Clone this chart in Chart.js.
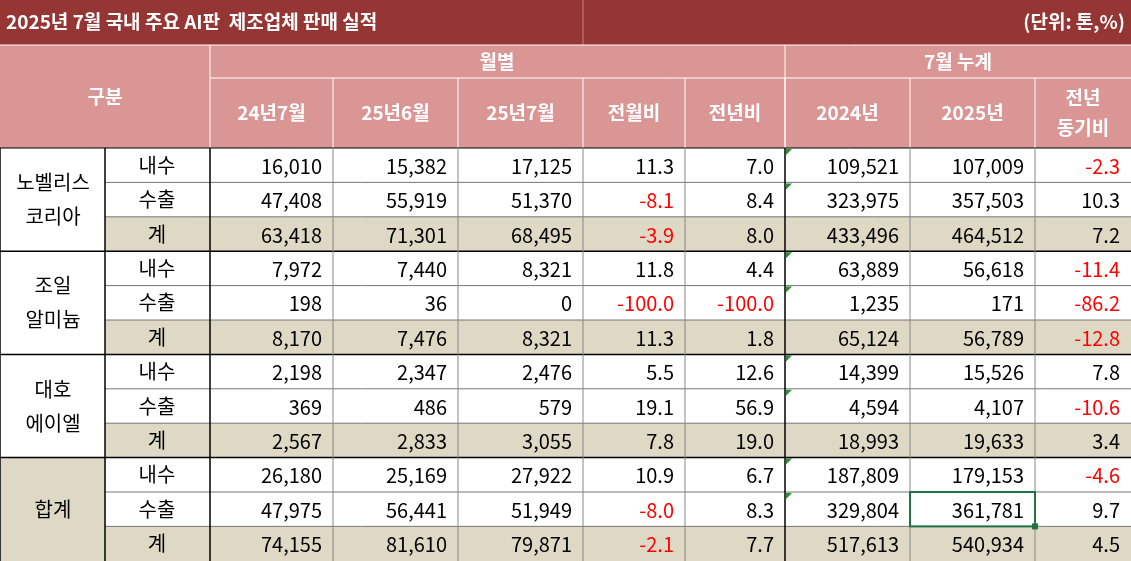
<!DOCTYPE html>
<html><head><meta charset="utf-8">
<script src="https://cdn.jsdelivr.net/npm/chart.js@4"></script>
<style>html,body{margin:0;padding:0;background:#fff;overflow:hidden}</style>
</head><body>
<canvas id="c" width="1131" height="561"></canvas>
<script>
const title = "2025년 7월 국내 주요 AI판  제조업체 판매 실적";
const unitLabel = "(단위: 톤,%)";
const groupHeaders = ["월별", "7월 누계"];
const columnHeaders = ["24년7월", "25년6월", "25년7월", "전월비", "전년비", "2024년", "2025년", "전년\n동기비"];
const companies = ["노벨리스\n코리아", "조일\n알미늄", "대호\n에이엘", "합계"];
const subRows = ["내수", "수출", "계"];
const novelis = [[16010,15382,17125,11.3,7.0,109521,107009,-2.3],[47408,55919,51370,-8.1,8.4,323975,357503,10.3],[63418,71301,68495,-3.9,8.0,433496,464512,7.2]];
const joil = [[7972,7440,8321,11.8,4.4,63889,56618,-11.4],[198,36,0,-100.0,-100.0,1235,171,-86.2],[8170,7476,8321,11.3,1.8,65124,56789,-12.8]];
const daeho = [[2198,2347,2476,5.5,12.6,14399,15526,7.8],[369,486,579,19.1,56.9,4594,4107,-10.6],[2567,2833,3055,7.8,19.0,18993,19633,3.4]];
const total = [[26180,25169,27922,10.9,6.7,187809,179153,-4.6],[47975,56441,51949,-8.0,8.3,329804,361781,9.7],[74155,81610,79871,-2.1,7.7,517613,540934,4.5]];
const companyValues = [novelis, joil, daeho, total];
const ratioCols = [3,4,7];

const colEdges = [0,105,210,333,458,583,685,785,910,1035,1131];
const rowTop = [148,182.4,216.8,251.2,285.6,320,354.4,388.8,423.2,457.6,492,526.4,561];
const FONT = '"Noto Sans CJK KR","Noto Sans",sans-serif';

const tablePlugin = {
  id: 'table',
  afterDraw(chart) {
    const ctx = chart.ctx, xs = chart.scales.x, ys = chart.scales.y;
    const X = v => xs.getPixelForValue(v), Y = v => ys.getPixelForValue(v);
    const rect = (x0,y0,x1,y1,fill) => { ctx.fillStyle = fill; ctx.fillRect(X(x0),Y(y0),X(x1)-X(x0),Y(y1)-Y(y0)); };
    const line = (x0,y0,x1,y1,col,w) => { ctx.strokeStyle=col; ctx.lineWidth=w; ctx.beginPath(); ctx.moveTo(X(x0),Y(y0)); ctx.lineTo(X(x1),Y(y1)); ctx.stroke(); };
    const text = (s,x,y,align,col,font) => { ctx.fillStyle=col; ctx.font=font; ctx.textAlign=align; ctx.textBaseline='middle'; ctx.fillText(s,X(x),Y(y)); };
    ctx.save();
    // title
    rect(0,0,1131,45,'#963634');
    line(583,0,583,45,'#c08080',1);
    text(title,6,22,'left','#fff','bold 19px '+FONT);
    text(unitLabel,1125,22,'right','#fff','bold 19px '+FONT);
    // headers
    rect(0,45,1131,148,'#DA9694');
    ctx.strokeStyle='#fff';
    line(210,45,210,148,'#fff',1); line(785,45,785,148,'#fff',1);
    line(210,78,1131,78,'#fff',1);
    for (let i=3;i<colEdges.length-1;i++) line(colEdges[i],78,colEdges[i],148,'#fff',1);
    line(0,45,1131,45,'#fff',1);
    text("구분",105,97,'center','#fff','bold 19px '+FONT);
    text(groupHeaders[0],497,62,'center','#fff','bold 19px '+FONT);
    text(groupHeaders[1],958,62,'center','#fff','bold 19px '+FONT);
    columnHeaders.forEach((h,i)=>{
      const cx=(colEdges[i+2]+colEdges[i+3])/2, parts=h.split('\n');
      parts.forEach((p,k)=>text(p,cx,113+(k-(parts.length-1)/2)*30,'center','#fff','bold 19px '+FONT));
    });
    // body
    companyValues.forEach((vals,g)=>{
      const r0=g*3;
      if (g===3) rect(0,rowTop[r0],105,rowTop[r0+3],'#DDD9C4');
      rect(105,rowTop[r0+2],1131,rowTop[r0+3],'#DDD9C4');
      const parts=companies[g].split('\n'), cy=(rowTop[r0]+rowTop[r0+3])/2;
      parts.forEach((p,k)=>text(p,53,cy+(k-(parts.length-1)/2)*34,'center','#000','20px '+FONT));
      vals.forEach((row,r)=>{
        const ty=(rowTop[r0+r]+rowTop[r0+r+1])/2;
        text(subRows[r],157,ty,'center','#000','20px '+FONT);
        row.forEach((v,c)=>{
          const isR=ratioCols.includes(c);
          const s=isR? v.toFixed(1) : v.toLocaleString('en-US');
          text(s,colEdges[c+3]-11,ty+1,'right',v<0?'#FF0000':'#000','20px '+FONT);
        });
        if (r<2) {
          ctx.fillStyle='#2E8B3A';
          const x=X(786), y=Y(rowTop[r0+r]+1);
          ctx.beginPath(); ctx.moveTo(x,y); ctx.lineTo(x+6,y); ctx.lineTo(x,y+6); ctx.fill();
        }
      });
    });
    // grid lines
    for (let i=1;i<rowTop.length-1;i++) {
      const grp = i%3===0;
      line(grp?0:105,rowTop[i],1131,rowTop[i],grp?'#000':'#777',grp?1.5:1);
    }
    line(0,148,1131,148,'#000',1);
    for (let i=1;i<colEdges.length-1;i++) {
      const c=colEdges[i];
      const strong = c===105||c===210||c===785;
      line(c,148,c,561,strong?'#000':'#888',strong?1.5:1);
    }
    line(0,148,0,561,'#000',1.5);
    // selected cell
    ctx.strokeStyle='#217346'; ctx.lineWidth=2;
    ctx.strokeRect(X(910),Y(rowTop[10]),X(1035)-X(910),Y(rowTop[11])-Y(rowTop[10]));
    ctx.fillStyle='#217346'; ctx.fillRect(X(1035)-3,Y(rowTop[11])-3,6,6);
    ctx.restore();
  }
};

new Chart(document.getElementById('c'), {
  type: 'scatter',
  data: { datasets: [{ data: [], pointRadius: 0 }] },
  options: {
    responsive: false, animation: false, devicePixelRatio: 1,
    layout: { padding: 0 },
    plugins: { legend: { display: false }, tooltip: { enabled: false } },
    scales: {
      x: { type: 'linear', min: 0, max: 1131, display: false },
      y: { type: 'linear', min: 0, max: 561, reverse: true, display: false }
    }
  },
  plugins: [tablePlugin]
});
</script>
</body></html>
